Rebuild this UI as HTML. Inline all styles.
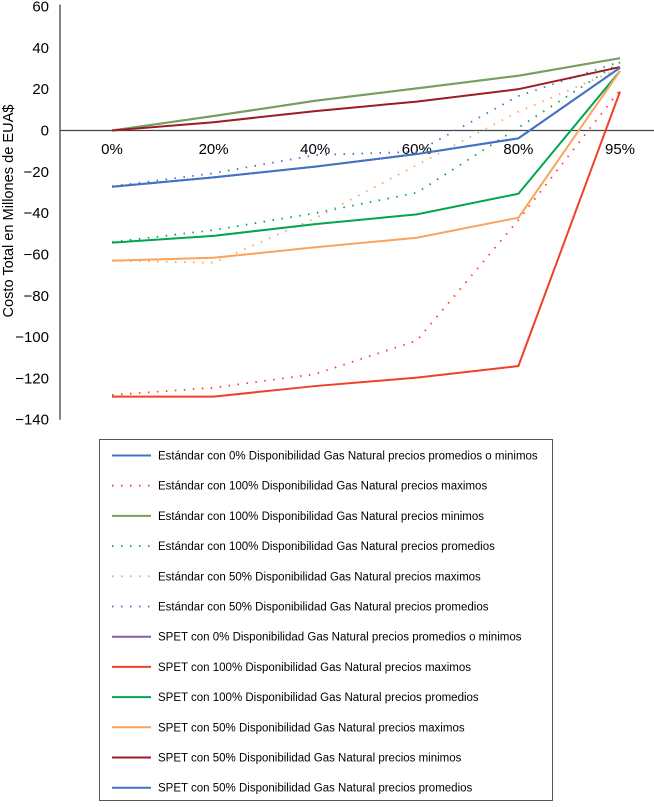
<!DOCTYPE html>
<html><head><meta charset="utf-8"><style>
body{margin:0;background:#fff;}
svg{display:block;font-family:"Liberation Sans",Arial,sans-serif;}
</style></head><body>
<svg id="chart" width="654" height="807">
<g id="axes"></g><g id="series"></g><g id="legend"></g>
</svg>
<script>
const categories = ["0%","20%","40%","60%","80%","95%"];
const yTicks = [60,40,20,0,-20,-40,-60,-80,-100,-120,-140];
const seriesNames = [
"Estándar con 0% Disponibilidad Gas Natural precios promedios o minimos",
"Estándar con 100% Disponibilidad Gas Natural precios maximos",
"Estándar con 100% Disponibilidad Gas Natural precios minimos",
"Estándar con 100% Disponibilidad Gas Natural precios promedios",
"Estándar con 50% Disponibilidad Gas Natural precios maximos",
"Estándar con 50% Disponibilidad Gas Natural precios promedios",
"SPET con 0% Disponibilidad Gas Natural precios promedios o minimos",
"SPET con 100% Disponibilidad Gas Natural precios maximos",
"SPET con 100% Disponibilidad Gas Natural precios promedios",
"SPET con 50% Disponibilidad Gas Natural precios maximos",
"SPET con 50% Disponibilidad Gas Natural precios minimos",
"SPET con 50% Disponibilidad Gas Natural precios promedios"];
const seriesColors = ["#4472c4","#ff3b2f","#77a05a","#00a550","#f9a45e","#4472c4","#7f60b0","#f0402a","#00a550","#f9a45e","#9b1c24","#4472c4"];
const seriesDotted = [false,true,false,true,true,true,false,false,false,false,false,false];
const s0 = [-27.2,-22.7,-17.5,-11.4,-3.8,30.4];
const s1 = [-128,-124.5,-117.9,-101.7,-43.3,19.6];
const s2 = [0,7,14.4,20.4,26.5,35];
const s3 = [-54,-48.2,-40,-30.1,1.4,33];
const s4 = [-63,-64,-42.5,-16.7,9.1,30];
const s5 = [-27,-20.7,-11.9,-10.3,16.7,33.3];
const s6 = [0,7,14.4,20.4,26.5,35];
const s7 = [-128.8,-128.8,-123.7,-119.6,-114,18.8];
const s8 = [-54.3,-51,-45.3,-40.6,-30.6,28.8];
const s9 = [-63,-61.6,-56.5,-51.9,-42.2,28.8];
const s10 = [0,4,9.4,14,20,30.7];
const s11 = [-27.2,-22.7,-17.5,-11.4,-3.8,30.4];
const seriesValues = [s0,s1,s2,s3,s4,s5,s6,s7,s8,s9,s10,s11];
const drawOrder = [1,3,4,5,6,2,10,7,8,9,0,11];

const NS="http://www.w3.org/2000/svg";
function mk(t,a,p){const e=document.createElementNS(NS,t);for(const k in a)e.setAttribute(k,a[k]);p.appendChild(e);return e;}
const X0=112, DX=101.6, Y0=130.5, K=2.066;
const xs=i=>X0+i*DX, ys=v=>Y0-v*K;
const ax=document.getElementById('axes');
const yl=mk('line',{x1:60,y1:ys(61),x2:60,y2:ys(-140),stroke:'#444','stroke-width':1.3},ax);


const xl=mk('line',{x1:60,y1:ys(0),x2:654,y2:ys(0),stroke:'#444','stroke-width':1.3},ax);


yTicks.forEach(v=>{const t=mk('text',{x:49,y:ys(v)+5,'text-anchor':'end','font-size':15},ax);t.textContent=(v<0?'\u2212'+(-v):v);

});
categories.forEach((c,i)=>{const t=mk('text',{x:xs(i),y:154,'text-anchor':'middle','font-size':15},ax);t.textContent=c;

});
const yt=mk('text',{x:0,y:0,'text-anchor':'middle','font-size':14.6,transform:'translate(13,211) rotate(-90)'},ax);yt.textContent='Costo Total en Millones de EUA$';


const sg=document.getElementById('series');
drawOrder.forEach(i=>{
 const pts=seriesValues[i].map((v,j)=>xs(j)+','+ys(v)).join(' ');
 const a={points:pts,fill:'none',stroke:seriesColors[i],'stroke-width':seriesDotted[i]?1.8:2};
 if(seriesDotted[i]){a['stroke-dasharray']='1.5 7.5';}
 const p=mk('polyline',a,sg);
 
 
});
const lg=document.getElementById('legend');
const box=mk('rect',{x:99.5,y:439.5,width:453,height:361,fill:'#fff',stroke:'#555','stroke-width':1},lg);


seriesNames.forEach((n,i)=>{
 const y=455.5+i*30.2;
 const a={x1:112,y1:y,x2:151,y2:y,stroke:seriesColors[i],'stroke-width':seriesDotted[i]?1.8:2};
 if(seriesDotted[i]){a['stroke-dasharray']='1.5 7.5';}
 const l=mk('line',a,lg);
 
 
 const t=mk('text',{x:158,y:y+4,'font-size':11.5},lg);t.textContent=n;
 
 
});
</script>
</body></html>
